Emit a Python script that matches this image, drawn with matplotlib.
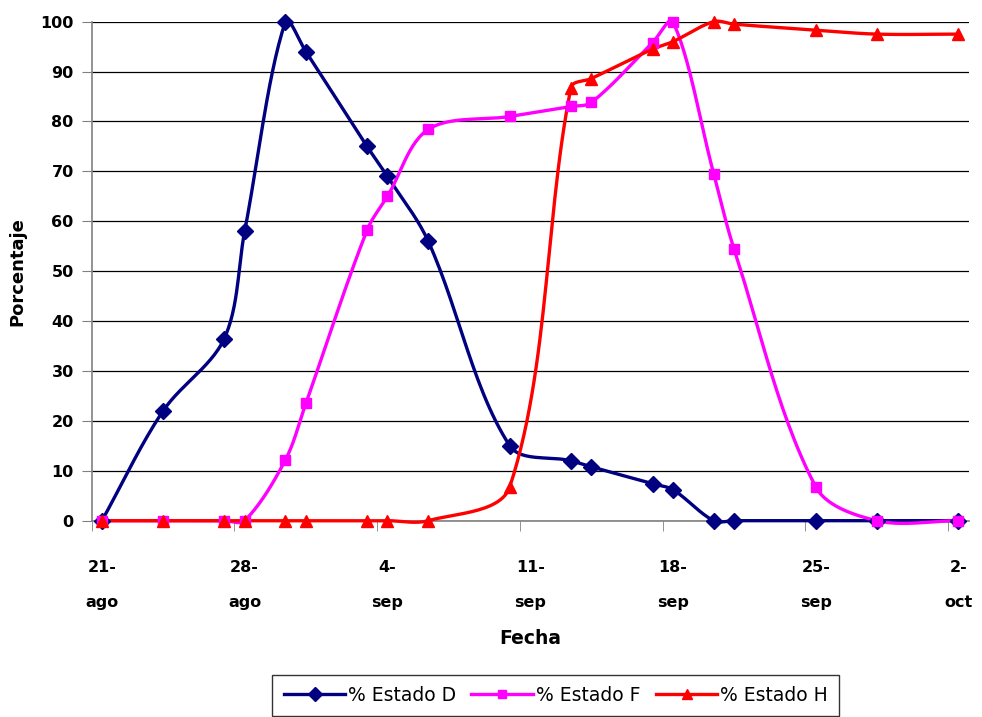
import numpy as np
import matplotlib
matplotlib.use("Agg")
import matplotlib.pyplot as plt
from matplotlib.lines import Line2D

# days since 21-ago
dias = [0, 3, 6, 7, 9, 10, 13, 14, 16, 20, 23, 24, 27, 28, 30, 31, 35, 38, 42]
estado_d = [0, 22, 36.5, 58, 100, 94, 75, 69, 56, 15, 12, 10.8, 7.4, 6.2, 0, 0, 0, 0, 0]
estado_f = [0, 0, 0, 0, 12.2, 23.5, 58.2, 65, 78.4, 81, 83, 83.8, 95.8, 100, 69.5, 54.4, 6.8, 0, 0]
estado_h = [0, 0, 0, 0, 0, 0, 0, 0, 0, 6.8, 86.8, 88.6, 94.5, 96, 100, 99.5, 98.3, 97.5, 97.5]

tick_dias = [0, 7, 14, 21, 28, 35, 42]
tick_labels = ["21-\nago", "28-\nago", "4-\nsep", "11-\nsep", "18-\nsep", "25-\nsep", "2-\noct"]

PX_DIA = 20.4   # screen pixels per day
PX_PCT = 5.0    # screen pixels per percent


def smooth(x, y, n=30):
    # bezier smoothing, control arms scaled by segment length (screen space)
    pts = np.column_stack([np.asarray(x) * PX_DIA, np.asarray(y) * PX_PCT]).astype(float)
    P = np.vstack([pts[0], pts, pts[-1]])
    out = []
    t = np.linspace(0, 1, n)[:, None]
    for i in range(1, len(P) - 2):
        p0, p1, p2, p3 = P[i - 1], P[i], P[i + 1], P[i + 2]
        d01 = np.linalg.norm(p1 - p0)
        d12 = np.linalg.norm(p2 - p1)
        d23 = np.linalg.norm(p3 - p2)
        c1 = p1 + (p2 - p0) * (d12 / (d01 + d12 + 1e-9)) / 3
        c2 = p2 - (p3 - p1) * (d12 / (d12 + d23 + 1e-9)) / 3
        seg = (1 - t) ** 3 * p1 + 3 * (1 - t) ** 2 * t * c1 + 3 * (1 - t) * t ** 2 * c2 + t ** 3 * p2
        out.append(seg)
    s = np.vstack(out)
    return s[:, 0] / PX_DIA, s[:, 1] / PX_PCT


fig = plt.figure(figsize=(9.82, 7.17), dpi=100)
ax = fig.add_axes([0.0934, 0.2738, 0.893, 0.696])

series = [
    (estado_d, "#000080", "D", 8, "% Estado D"),
    (estado_f, "#FF00FF", "s", 7, "% Estado F"),
    (estado_h, "#FF0000", "^", 8, "% Estado H"),
]
handles = []
for vals, col, mk, ms, lab in series:
    sx, sy = smooth(dias, vals)
    ax.plot(sx, sy, color=col, lw=2.4, clip_on=False, zorder=3)
    ax.plot(dias, vals, ls="none", marker=mk, ms=ms, color=col, clip_on=False, zorder=4)
    handles.append(Line2D([], [], color=col, lw=2.4, marker=mk, ms=ms - 1, label=lab))

ax.set_xlim(-0.5, 42.5)
ax.set_ylim(0, 100)
ax.set_yticks(np.arange(0, 101, 10))
ax.grid(axis="y", color="black", lw=0.9)
ax.set_axisbelow(True)

ax.set_xticks(tick_dias)
ax.set_xticklabels(tick_labels, fontweight="bold", fontsize=11.5, linespacing=2.7)
ax.set_xticks(np.arange(-0.5, 43, 7), minor=True)
ax.tick_params(axis="x", which="major", length=0, pad=28)
ax.tick_params(axis="x", which="minor", length=7, direction="out", color="#808080")
ax.tick_params(axis="y", length=7, direction="out", color="#808080", pad=6, labelsize=11.5)
for lbl in ax.get_yticklabels():
    lbl.set_fontweight("bold")

for s in ["top", "right"]:
    ax.spines[s].set_visible(False)
for s in ["left", "bottom"]:
    ax.spines[s].set_color("#808080")
    ax.spines[s].set_linewidth(1.2)

ax.set_ylabel("Porcentaje", fontsize=13, fontweight="bold", labelpad=10)
ax.set_xlabel("Fecha", fontsize=13.5, fontweight="bold", labelpad=14)

leg = fig.legend(handles=handles, loc="upper center", bbox_to_anchor=(0.566, 0.072),
                 ncol=3, frameon=True, fancybox=False, edgecolor="black", fontsize=13.5,
                 handlelength=3.3, columnspacing=0.8, handletextpad=0.15, borderpad=0.6)
leg.get_frame().set_linewidth(1.0)

fig.savefig("out.png", dpi=100)
